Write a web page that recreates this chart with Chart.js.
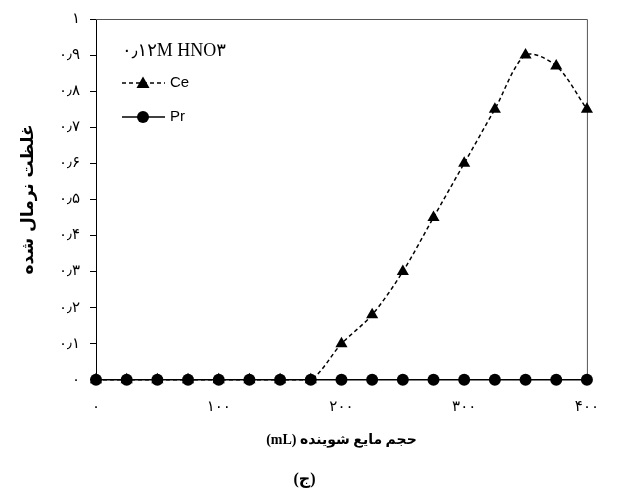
<!DOCTYPE html>
<html>
<head>
<meta charset="utf-8">
<script src="https://cdn.jsdelivr.net/npm/chart.js@4.4.1/dist/chart.umd.min.js"></script>
<style>
    html, body { margin: 0; padding: 0; background: #fff; }
    #wrap { width: 617px; height: 498px; }
</style>
</head>
<body>
<div id="wrap"><canvas id="chart" width="617" height="498" dir="rtl"></canvas></div>
<script>
    // eluent volume (mL)
    var volumes = [0, 25, 50, 75, 100, 125, 150, 175, 200, 225, 250, 275, 300, 325, 350, 375, 400];
    var ceValues = [0, 0, 0, 0, 0, 0, 0, 0, 0.1, 0.18, 0.3, 0.45, 0.6, 0.75, 0.9, 0.87, 0.75];
    var prValues = [0, 0, 0, 0, 0, 0, 0, 0, 0, 0, 0, 0, 0, 0, 0, 0, 0];

    var seriesNames = ['Ce', 'Pr'];
    var legendTitle = '۰٫۱۲M HNO۳';
    var xTickLabels = ['۰', '۱۰۰', '۲۰۰', '۳۰۰', '۴۰۰'];
    var yTickLabels = ['۰', '۰٫۱', '۰٫۲', '۰٫۳', '۰٫۴', '۰٫۵', '۰٫۶', '۰٫۷', '۰٫۸', '۰٫۹', '۱'];
    var xTitle = 'حجم مایع شوینده (mL)';
    var yTitle = 'غلظت نرمال شده';
    var figureLabel = '(ج)';

    var toPoints = function (values) {
        return volumes.map(function (v, i) {
            return { x: v, y: values[i] };
        });
    };

    // frame on top and right + legend drawn inside the plot
    var framePlugin = {
        id: 'frame',
        beforeDatasetsDraw: function (chart) {
            var a = chart.chartArea;
            var ctx = chart.ctx;
            ctx.save();
            ctx.strokeStyle = '#555';
            ctx.lineWidth = 1;
            ctx.beginPath();
            ctx.moveTo(a.left, a.top + 0.5);
            ctx.lineTo(a.right + 0.5, a.top + 0.5);
            ctx.lineTo(a.right + 0.5, a.bottom);
            ctx.stroke();
            ctx.restore();
        },
        afterDraw: function (chart) {
            var ctx = chart.ctx;
            var x0 = 122;
            ctx.save();
            ctx.direction = 'ltr';
            ctx.fillStyle = '#000';
            ctx.textAlign = 'left';
            ctx.textBaseline = 'middle';
            ctx.font = '18px "Liberation Serif", "DejaVu Sans"';
            ctx.fillText(legendTitle, x0, 51);

            var rows = [83, 117];
            seriesNames.forEach(function (name, i) {
                var y = rows[i];
                var ds = chart.data.datasets[i];
                ctx.strokeStyle = '#000';
                ctx.lineWidth = ds.borderWidth;
                ctx.setLineDash(ds.borderDash || []);
                ctx.beginPath();
                ctx.moveTo(x0, y);
                ctx.lineTo(x0 + 43, y);
                ctx.stroke();
                ctx.setLineDash([]);
                ctx.beginPath();
                if (ds.pointStyle === 'triangle') {
                    ctx.moveTo(x0 + 21, y - 6.5);
                    ctx.lineTo(x0 + 27.5, y + 5);
                    ctx.lineTo(x0 + 14.5, y + 5);
                    ctx.closePath();
                } else {
                    ctx.arc(x0 + 21, y, 6, 0, Math.PI * 2);
                }
                ctx.fill();
                ctx.font = '15px "Liberation Sans", "DejaVu Sans"';
                ctx.fillText(name, x0 + 48, y);
            });
            ctx.restore();
        }
    };

    var ctx = document.getElementById('chart').getContext('2d');

    var myChart = new Chart(ctx, {
        type: 'line',
        data: {
            datasets: [{
                label: seriesNames[0],
                data: toPoints(ceValues),
                borderColor: '#000',
                backgroundColor: '#000',
                borderWidth: 1.5,
                borderDash: [4, 3],
                pointStyle: 'triangle',
                pointRadius: 7,
                pointBorderWidth: 0,
                tension: 0.3,
                clip: false,
                order: 0
            }, {
                label: seriesNames[1],
                data: toPoints(prValues),
                borderColor: '#000',
                backgroundColor: '#000',
                borderWidth: 1.5,
                pointStyle: 'circle',
                pointRadius: 6,
                pointBorderWidth: 0,
                tension: 0,
                clip: false,
                order: 1
            }]
        },
        options: {
            responsive: false,
            animation: false,
            devicePixelRatio: 1,
            layout: {
                padding: { left: 14, right: 22, top: 19, bottom: 9 }
            },
            plugins: {
                legend: { display: false },
                tooltip: { enabled: false },
                title: {
                    display: true,
                    position: 'bottom',
                    text: figureLabel,
                    color: '#000',
                    font: { family: '"Liberation Serif", "DejaVu Sans"', size: 16, weight: 'bold', lineHeight: 1.2 },
                    padding: { top: 17, bottom: 0 }
                }
            },
            scales: {
                x: {
                    type: 'linear',
                    min: 0,
                    max: 400,
                    afterFit: function (scale) {
                        scale.height = 73;
                    },
                    ticks: {
                        stepSize: 100,
                        padding: 18,
                        color: '#000',
                        font: { family: '"DejaVu Sans"', size: 15 },
                        maxRotation: 0,
                        callback: function (value, index) {
                            return xTickLabels[index];
                        }
                    },
                    grid: { display: false, drawTicks: false, tickLength: 0 },
                    border: { display: true, color: '#000', width: 1 },
                    title: {
                        display: true,
                        text: xTitle,
                        color: '#000',
                        font: { family: '"Liberation Serif", "DejaVu Sans"', size: 14, weight: 'bold', lineHeight: 1.2 },
                        padding: { top: 0, bottom: 4 }
                    }
                },
                y: {
                    min: 0,
                    max: 1,
                    afterFit: function (scale) {
                        scale.width = 82;
                    },
                    ticks: {
                        stepSize: 0.1,
                        padding: 10,
                        color: '#000',
                        font: { family: '"DejaVu Sans"', size: 15 },
                        callback: function (value, index) {
                            return yTickLabels[index];
                        }
                    },
                    grid: { display: true, drawOnChartArea: false, drawTicks: true, tickLength: 6, color: '#000' },
                    border: { display: true, color: '#000', width: 1 },
                    title: {
                        display: true,
                        text: yTitle,
                        color: '#000',
                        font: { family: '"DejaVu Sans"', size: 17, weight: 'bold', lineHeight: 1.2 },
                        padding: { top: 4, bottom: 4 }
                    }
                }
            }
        },
        plugins: [framePlugin]
    });
</script>
</body>
</html>
